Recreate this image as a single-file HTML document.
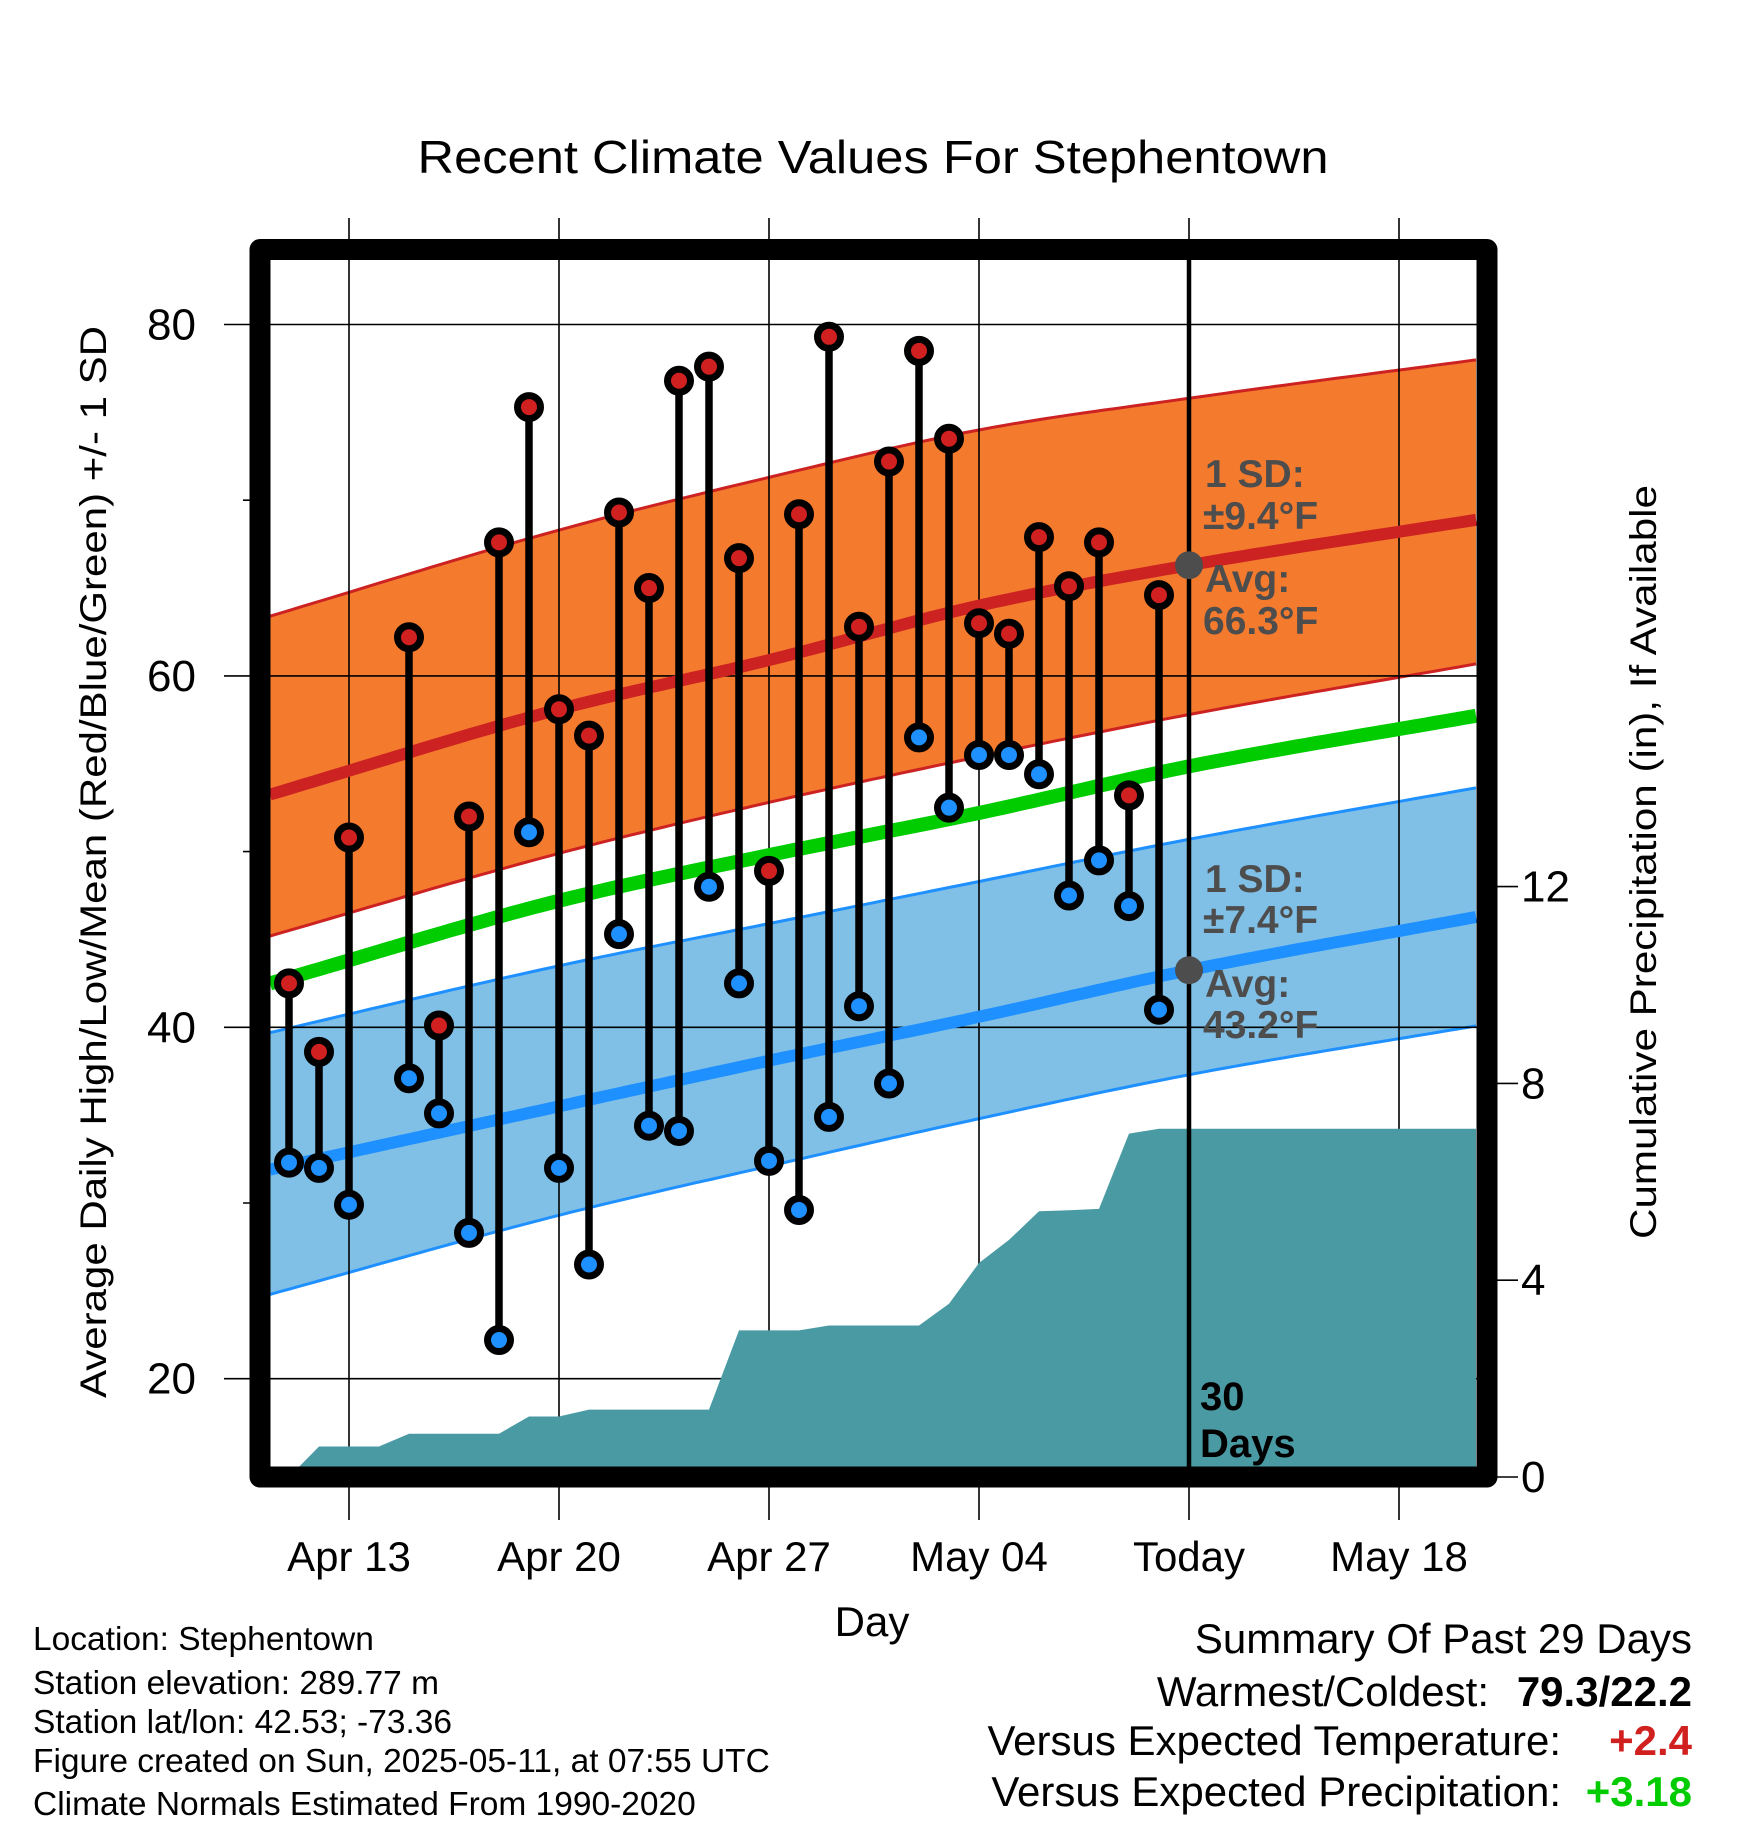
<!DOCTYPE html>
<html><head><meta charset="utf-8"><style>
html,body{margin:0;padding:0;background:#fff;}
svg{display:block;font-family:"Liberation Sans",Arial,sans-serif;}
</style></head><body>
<svg id="chart" width="1748" height="1828" viewBox="0 0 1748 1828" xmlns="http://www.w3.org/2000/svg">
<g id="bands"></g>
<g id="grid"></g>
<g id="precip"></g>
<g id="lines"></g>
<g id="stems"></g>
<g id="annot"></g>
<g id="axes"></g>
</svg>
<script>
// ---- data ----
const dayLabels = ["Apr 11","Apr 12","Apr 13","Apr 14","Apr 15","Apr 16","Apr 17","Apr 18","Apr 19","Apr 20","Apr 21","Apr 22","Apr 23","Apr 24","Apr 25","Apr 26","Apr 27","Apr 28","Apr 29","Apr 30","May 1","May 2","May 3","May 4","May 5","May 6","May 7","May 8","May 9","May 10"];
const highs = [42.5,38.6,50.8,null,62.2,40.1,52.0,67.6,75.3,58.1,56.6,69.3,65.0,76.8,77.6,66.7,48.9,69.2,79.3,62.8,72.2,78.5,73.5,63.0,62.4,67.9,65.1,67.6,53.2,64.6];
const lows  = [32.3,32.0,29.9,null,37.1,35.1,28.3,22.2,51.1,32.0,26.5,45.3,34.4,34.1,48.0,42.5,32.4,29.6,34.9,41.2,36.8,56.5,52.5,55.5,55.5,54.4,47.5,49.5,46.9,41.0];
const precip = [0.0,0.62,0.62,0.62,0.88,0.88,0.88,0.88,1.23,1.23,1.37,1.37,1.37,1.37,1.37,2.98,2.98,2.98,3.08,3.08,3.08,3.08,3.52,4.35,4.82,5.40,5.42,5.45,6.98,7.08];
const normDays  = [-0.63,9,16,23,30,39.63];
const highUpper = [63.4,68.3,71.3,74.0,75.8,78.0];
const normHigh  = [53.25,58.1,60.9,64.0,66.3,68.9];
const highLower = [45.2,49.9,52.8,55.4,57.8,60.7];
const normMean  = [42.5,47.2,49.8,52.2,54.85,57.75];
const lowUpper  = [39.7,43.5,45.9,48.3,50.7,53.65];
const normLow   = [31.9,35.5,38.1,40.6,43.25,46.3];
const lowLower  = [24.8,29.3,32.1,34.8,37.3,40.1];
const xTickDays = [2,9,16,23,30,37];
const xTickLabels = ["Apr 13","Apr 20","Apr 27","May 04","Today","May 18"];
const yTicks = [20,40,60,80];
const yMinor = [30,50,70];
const pTicks = [0,4,8,12];

// ---- scales ----
const X = d => 289 + d*30;
const Y = t => 324.5 + (80-t)*17.57;
const P = p => 1477 - p*49.2;
const L=270, R=1476, T=260, B=1467;
const NS="http://www.w3.org/2000/svg";
function mk(tag, parent, attrs){const e=document.createElementNS(NS,tag);for(const k in attrs)e.setAttribute(k,attrs[k]);document.getElementById(parent).appendChild(e);return e;}
// smooth cubic Hermite interpolation
function interp(xs, ys, d){
  const n=xs.length;
  const sec=[]; for(let i=0;i<n-1;i++) sec.push((ys[i+1]-ys[i])/(xs[i+1]-xs[i]));
  const m=[]; for(let i=0;i<n;i++){ m.push(i===0?sec[0]:(i===n-1?sec[n-2]:(sec[i-1]+sec[i])/2)); }
  if(d<=xs[0]) return ys[0]+m[0]*(d-xs[0]);
  if(d>=xs[n-1]) return ys[n-1]+m[n-1]*(d-xs[n-1]);
  let i=0; while(d>xs[i+1]) i++;
  const h=xs[i+1]-xs[i], t=(d-xs[i])/h, t2=t*t, t3=t2*t;
  return (2*t3-3*t2+1)*ys[i]+(t3-2*t2+t)*h*m[i]+(-2*t3+3*t2)*ys[i+1]+(t3-t2)*h*m[i+1];
}
const dL=(L-289)/30, dR=(R-289)/30;
const samp=[]; for(let i=0;i<=120;i++) samp.push(dL+(dR-dL)*i/120);
const F = arr => (d => interp(normDays,arr,d));
function pathFn(f){return samp.map((d,i)=>(i?'L':'M')+X(d).toFixed(1)+','+Y(f(d)).toFixed(1)).join('');}
function bandPath(fu,fl){const up=samp.map((d,i)=>(i?'L':'M')+X(d).toFixed(1)+','+Y(fu(d)).toFixed(1)).join('');
  const dn=samp.slice().reverse().map(d=>'L'+X(d).toFixed(1)+','+Y(fl(d)).toFixed(1)).join(''); return up+dn+'Z';}

let e;
e=mk('path','bands',{d:bandPath(F(highUpper),F(highLower)),fill:'#f47a2e'});
 
e=mk('path','bands',{d:bandPath(F(lowUpper),F(lowLower)),fill:'#80c0e6'});
 
[[highUpper,'#cc2222'],[highLower,'#cc2222'],[lowUpper,'#1e90ff'],[lowLower,'#1e90ff']].forEach(a=>{
  e=mk('path','bands',{d:pathFn(F(a[0])),fill:'none',stroke:a[1],'stroke-width':3});
   
});
// grid
xTickDays.forEach(d=>{e=mk('line','grid',{x1:X(d),x2:X(d),y1:218,y2:1520,stroke:'#000','stroke-width':1.6});
   });
yTicks.forEach(t=>{e=mk('line','grid',{x1:224,x2:1487,y1:Y(t),y2:Y(t),stroke:'#000','stroke-width':1.6});
   });
yMinor.forEach(t=>{e=mk('line','grid',{x1:243,x2:262,y1:Y(t),y2:Y(t),stroke:'#000','stroke-width':1.6});
   });
// precip
let pd='M'+X(0)+','+P(0);
precip.forEach((p,i)=>{pd+='L'+X(i)+','+P(p).toFixed(1);});
pd+='L'+R+','+P(precip[precip.length-1]).toFixed(1)+'L'+R+','+B+'L'+X(0)+','+B+'Z';
e=mk('path','precip',{d:pd,fill:'#4a9aa4'});
 
// normal lines
e=mk('path','lines',{d:pathFn(F(normHigh)),fill:'none',stroke:'#cc2222','stroke-width':12});
 
e=mk('path','lines',{d:pathFn(F(normLow)),fill:'none',stroke:'#1e90ff','stroke-width':12});
 
e=mk('path','lines',{d:pathFn(F(normMean)),fill:'none',stroke:'#00cc00','stroke-width':14});
 
// today line
e=mk('line','lines',{x1:X(30),x2:X(30),y1:T,y2:B,stroke:'#000','stroke-width':4.5});
 
// stems
highs.forEach((h,i)=>{ if(h===null) return; const l=lows[i];
  e=mk('line','stems',{x1:X(i),x2:X(i),y1:Y(h),y2:Y(l),stroke:'#000','stroke-width':7.5});
   
  e=mk('circle','stems',{cx:X(i),cy:Y(h),r:11.5,fill:'#d02020',stroke:'#000','stroke-width':7});
   
  e=mk('circle','stems',{cx:X(i),cy:Y(l),r:11.5,fill:'#1e90ff',stroke:'#000','stroke-width':7});
   
});
// annotations
e=mk('circle','annot',{cx:X(30),cy:Y(F(normHigh)(30)),r:14,fill:'#4d4d4d'});
 
e=mk('circle','annot',{cx:X(30),cy:Y(F(normLow)(30)),r:14,fill:'#4d4d4d'});
 
function txt(parent,x,y,s,attrs,name){const t=mk('text',parent,Object.assign({x:x,y:y},attrs));t.textContent=s;
    return t;}
const ga={'font-size':39,'font-weight':'bold',fill:'#4d4d4d'};
txt('annot',1205,487,'1 SD:',ga,'high-sd-label');
txt('annot',1203,529,'±9.4°F',ga,'high-sd-value');
txt('annot',1205,592,'Avg:',ga,'high-avg-label');
txt('annot',1203,634,'66.3°F',ga,'high-avg-value');
txt('annot',1205,892,'1 SD:',ga,'low-sd-label');
txt('annot',1203,933,'±7.4°F',ga,'low-sd-value');
txt('annot',1205,997,'Avg:',ga,'low-avg-label');
txt('annot',1203,1038,'43.2°F',ga,'low-avg-value');
const ba={'font-size':40,'font-weight':'bold',fill:'#000'};
txt('annot',1200,1410,'30',ba,'days-count');
txt('annot',1200,1457,'Days',ba,'days-label');
// frame
e=mk('rect','axes',{x:260,y:249.5,width:1227,height:1227.5,fill:'none',stroke:'#000','stroke-width':21,'stroke-linejoin':'round'});
 
// axes labels
yTicks.forEach(t=>txt('axes',196,Y(t)+15,String(t),{'font-size':44,'text-anchor':'end'},'y-tick-label'));
pTicks.forEach(p=>{e=mk('line','axes',{x1:1487,x2:1518,y1:P(p),y2:P(p),stroke:'#000','stroke-width':1.6});
   
  txt('axes',1521,P(p)+15,String(p),{'font-size':44},'precip-tick-label');});
xTickDays.forEach((d,i)=>txt('axes',X(d),1571,xTickLabels[i],{'font-size':42,'text-anchor':'middle'},'x-tick-label'));
txt('axes',872,1636,'Day',{'font-size':42,'text-anchor':'middle'},'x-axis-title');
txt('axes',873,173,'Recent Climate Values For Stephentown',{'font-size':46,'text-anchor':'middle',textLength:911,lengthAdjust:'spacingAndGlyphs'},'chart-title');
txt('axes',0,0,'Average Daily High/Low/Mean (Red/Blue/Green) +/- 1 SD',{'font-size':37,'text-anchor':'middle',transform:'translate(106,862) rotate(-90)',textLength:1072,lengthAdjust:'spacingAndGlyphs'},'y-axis-title');
txt('axes',0,0,'Cumulative Precipitation (in), If Available',{'font-size':37,'text-anchor':'middle',transform:'translate(1656,862) rotate(-90)',textLength:754,lengthAdjust:'spacingAndGlyphs'},'precip-axis-title');
// info
const info=['Location: Stephentown','Station elevation: 289.77 m','Station lat/lon: 42.53; -73.36','Figure created on Sun, 2025-05-11, at 07:55 UTC','Climate Normals Estimated From 1990-2020'];
const infoY=[1650,1694,1733,1772,1815];
info.forEach((s,i)=>txt('axes',33,infoY[i],s,{'font-size':33.5},'station-info-line'));
const sa={'font-size':42,'text-anchor':'end'};
txt('axes',1692,1653,'Summary Of Past 29 Days',sa,'summary-title');
txt('axes',1489,1706,'Warmest/Coldest:',sa,'warmest-coldest-label');
txt('axes',1692,1706,'79.3/22.2',{'font-size':42,'text-anchor':'end','font-weight':'bold'},'warmest-coldest-value');
txt('axes',1561,1755,'Versus Expected Temperature:',sa,'temp-anomaly-label');
txt('axes',1692,1755,'+2.4',{'font-size':42,'text-anchor':'end','font-weight':'bold',fill:'#d02020'},'temp-anomaly-value');
txt('axes',1561,1806,'Versus Expected Precipitation:',sa,'precip-anomaly-label');
txt('axes',1692,1806,'+3.18',{'font-size':42,'text-anchor':'end','font-weight':'bold',fill:'#00cc00'},'precip-anomaly-value');
</script>
</body></html>
